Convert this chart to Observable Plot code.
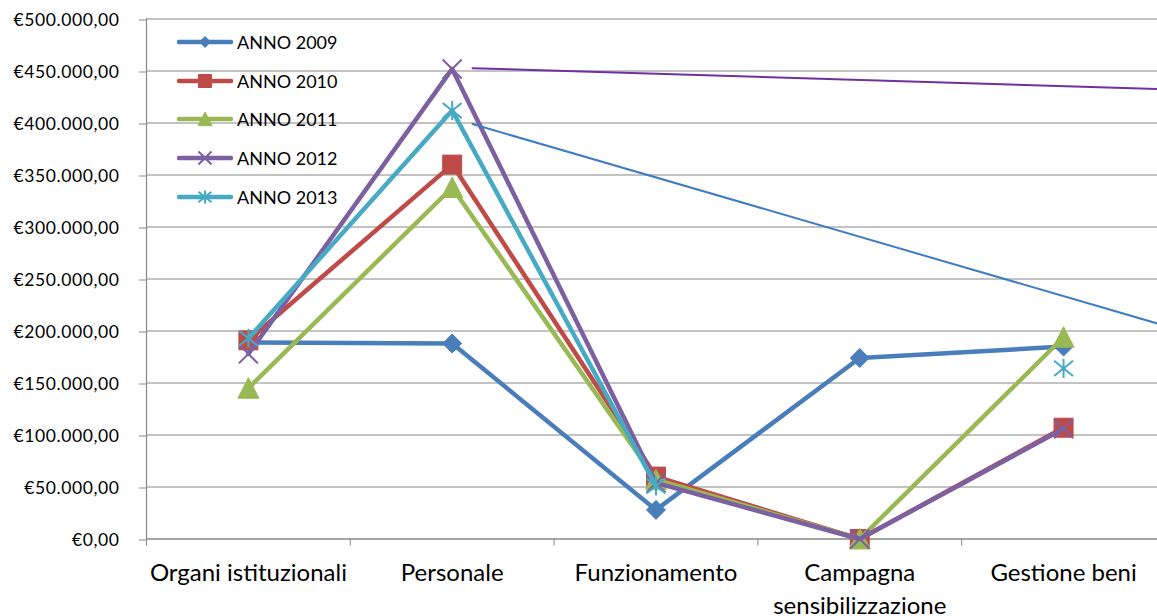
<!DOCTYPE html>
<html>
<head>
<meta charset="utf-8">
<script src="https://cdn.jsdelivr.net/npm/d3@7"></script>
<script src="https://cdn.jsdelivr.net/npm/@observablehq/plot@0.6"></script>
<style>
  body { margin: 0; background: #fff; }
  #chart { position: relative; width: 1157px; height: 616px; overflow: hidden; background: #fff; }
  #legend { position: absolute; left: 177px; top: 0; font-family: Lato, sans-serif; font-size: 18px; color: #000; }
  .item { position: absolute; left: 0; height: 24px; display: flex; align-items: center; white-space: nowrap; }
  .item svg { display: block; margin-right: 3px; }
  g[aria-label="y-axis tick label"] text { letter-spacing: 0.6px; }
</style>
</head>
<body>
<div id="chart"><div id="legend"></div></div>
<script>
// ---------- data ----------
const categories = ["Organi istituzionali", "Personale", "Funzionamento", "Campagna\nsensibilizzazione", "Gestione beni"];
const years = ["ANNO 2009", "ANNO 2010", "ANNO 2011", "ANNO 2012", "ANNO 2013"];
const values2009 = [189000, 188000, 28000, 174000, 185000];
const values2010 = [191000, 360000, 60000, 0, 107000];
const values2011 = [145000, 338000, 57000, 0, 194000];
const values2012 = [178000, 452000, 54000, 0, 106000];
const values2013 = [193000, 412000, 51000, null, 164000];
const yTicks = [0, 50000, 100000, 150000, 200000, 250000, 300000, 350000, 400000, 450000, 500000];
const categoryBounds = [-0.5, 0.5, 1.5, 2.5, 3.5];
// two thin straight lines drawn over the chart (start/end in category index, value)
const thinPurpleX = [1.10, 4.461];
const thinPurpleY = [452700, 432600];
const thinBlueX = [1.10, 4.461];
const thinBlueY = [399000, 207200];

// ---------- styles ----------
const colors = ["#4A7EBB", "#BE4B48", "#98B954", "#7D60A0", "#46AAC5"];
const thinColors = ["#7030A0", "#3F7CC4"];
const gridColor = "#878787";

// custom marker symbols: half-extent = r
const half = size => Math.sqrt(size / Math.PI);
const symDiamond = {draw(c, s) { const r = half(s); c.moveTo(0, -r); c.lineTo(r, 0); c.lineTo(0, r); c.lineTo(-r, 0); c.closePath(); }};
const symSquare = {draw(c, s) { const r = half(s); c.rect(-r, -r, 2 * r, 2 * r); }};
const symTriangle = {draw(c, s) { const r = half(s); c.moveTo(0, -r); c.lineTo(r, r * 0.95); c.lineTo(-r, r * 0.95); c.closePath(); }};
const symTimes = {draw(c, s) { const r = half(s); c.moveTo(-r, -r); c.lineTo(r, r); c.moveTo(-r, r); c.lineTo(r, -r); }};
const symStar = {draw(c, s) { const r = half(s); c.moveTo(-r, -r * 0.8); c.lineTo(r, r * 0.8); c.moveTo(-r, r * 0.8); c.lineTo(r, -r * 0.8); c.moveTo(0, -r); c.lineTo(0, r); }};

const markers = [
  {sym: symDiamond, r: 9.5, filled: true, lr: 5.5},
  {sym: symSquare, r: 9.5, filled: true, lr: 6.5},
  {sym: symTriangle, r: 10.5, filled: true, lr: 7},
  {sym: symTimes, r: 9.5, filled: false, lr: 6.5},
  {sym: symStar, r: 9.5, filled: false, lr: 6.5}
];

const seriesValues = [values2009, values2010, values2011, values2012, values2013];
const series = seriesValues.map((vals, s) => vals.map((v, i) => ({i, v, s})));

const itLocale = d3.formatLocale({decimal: ",", thousands: ".", grouping: [3], currency: ["€", ""]});
const fmtEuro = itLocale.format("$,.2f");

const marks = [
  Plot.gridY({ticks: yTicks, stroke: gridColor, strokeOpacity: 1, strokeWidth: 1.2}),
  Plot.ruleX([-0.5], {stroke: gridColor, strokeWidth: 1.2}),
  Plot.ruleY([0], {stroke: gridColor, strokeWidth: 1.2}),
  Plot.axisY({ticks: yTicks, tickFormat: fmtEuro, tickSize: 7, tickPadding: 20, fontSize: 17.5, fontFamily: "Lato", stroke: gridColor, fill: "#000", dy: 1}),
  Plot.axisX({ticks: categoryBounds, tickFormat: () => "", tickSize: 7, stroke: gridColor}),
  Plot.text(categories, {x: (d, i) => i, text: d => d, frameAnchor: "bottom", lineAnchor: "top", dy: 18.5, fontSize: 24, fontFamily: "Lato", lineHeight: 1.38, fill: "#000"})
];

series.forEach((data, s) => {
  const m = markers[s];
  marks.push(Plot.line(data, {x: "i", y: "v", stroke: colors[s], strokeWidth: 4.5, strokeLinejoin: "round", strokeLinecap: "round"}));
  marks.push(Plot.dot(data, {
    x: "i", y: "v", symbol: m.sym, r: m.r,
    fill: m.filled ? colors[s] : "none",
    stroke: colors[s], strokeWidth: m.filled ? 1 : 2
  }));
});

marks.push(Plot.line(thinPurpleX.map((x, k) => ({x, y: thinPurpleY[k]})), {x: "x", y: "y", stroke: thinColors[0], strokeWidth: 2}));
marks.push(Plot.line(thinBlueX.map((x, k) => ({x, y: thinBlueY[k]})), {x: "x", y: "y", stroke: thinColors[1], strokeWidth: 2}));

const chart = Plot.plot({
  width: 1157,
  height: 616,
  marginLeft: 146,
  marginRight: 0,
  marginTop: 18.5,
  marginBottom: 77.5,
  x: {type: "linear", domain: [-0.5, 4.461], axis: null},
  y: {domain: [0, 500000], axis: null},
  style: {fontFamily: "Lato", background: "white", color: "black", overflow: "visible"},
  marks
});
document.getElementById("chart").prepend(chart);

// ---------- legend ----------
const legend = d3.select("#legend");
years.forEach((label, s) => {
  const m = markers[s];
  const item = legend.append("div").attr("class", "item").style("top", (42 + s * 38.7 - 12) + "px");
  const svg = item.append("svg").attr("width", 57).attr("height", 24);
  svg.append("line").attr("x1", 2).attr("x2", 54).attr("y1", 12).attr("y2", 12)
    .attr("stroke", colors[s]).attr("stroke-width", 4.5).attr("stroke-linecap", "round");
  svg.append("path")
    .attr("transform", "translate(28,12)")
    .attr("d", d3.symbol().type(m.sym).size(Math.PI * m.lr * m.lr)())
    .attr("fill", m.filled ? colors[s] : "none")
    .attr("stroke", colors[s]).attr("stroke-width", m.filled ? 1 : 2);
  item.append("span").text(label);
});
</script>
</body>
</html>
